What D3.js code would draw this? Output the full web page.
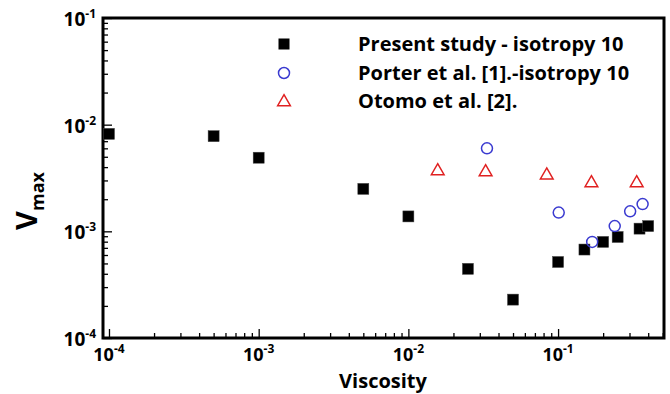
<!DOCTYPE html>
<html><head><meta charset="utf-8">
<script src="https://cdn.jsdelivr.net/npm/d3@7"></script>
<style>
html,body{margin:0;padding:0;background:#fff;}
text{font-family:"Open Sans",Lato,sans-serif;font-weight:bold;fill:#000;}
</style></head>
<body>
<svg id="c" width="670" height="394"></svg>
<script>
// Data
const presentX = [1e-4, 5e-4, 1e-3, 5e-3, 1e-2, 0.025, 0.05, 0.1, 0.15, 0.2, 0.25, 0.35, 0.40];
const presentY = [8.2e-3, 7.8e-3, 4.9e-3, 2.5e-3, 1.38e-3, 4.45e-4, 2.29e-4, 5.16e-4, 6.75e-4, 7.96e-4, 8.85e-4, 1.06e-3, 1.12e-3];
const porterX = [0.0335, 0.101, 0.169, 0.239, 0.303, 0.367];
const porterY = [6.0e-3, 1.5e-3, 7.96e-4, 1.12e-3, 1.54e-3, 1.8e-3];
const otomoX = [0.0157, 0.0328, 0.084, 0.167, 0.335];
const otomoY = [3.76e-3, 3.68e-3, 3.43e-3, 2.9e-3, 2.9e-3];
const seriesNames = ["Present study - isotropy 10", "Porter et al. [1].-isotropy 10", "Otomo et al. [2]."];
const xTickExps = [-4, -3, -2, -1];
const yTickExps = [-4, -3, -2, -1];
const xTitle = "Viscosity";
const yTitleMain = "V", yTitleSub = "max";

const svg = d3.select("#c");
const L = 103, R = 664, T = 18, B = 338;
const x = d3.scaleLog().domain([9.12e-5, 0.51]).range([L, R]);
const y = d3.scaleLog().domain([1e-4, 1e-1]).range([B, T]);

svg.append("rect").attr("width",670).attr("height",394).attr("fill","#fff");

function minors(lo, hi){ const a=[]; for(let e=lo;e<hi;e++){ for(let k=2;k<=9;k++){ a.push(k*Math.pow(10,e)); } } return a; }
const xMinor = minors(-5, 0).filter(v => v > x.domain()[0] && v < x.domain()[1]);
const yMinor = minors(-4, -1);
const xMajor = xTickExps.map(e => Math.pow(10,e));
const yMajor = yTickExps.map(e => Math.pow(10,e));

const gx1 = svg.append("g").attr("transform",`translate(0,${B})`).call(d3.axisBottom(x).tickValues(xMinor).tickSize(-5).tickFormat(""));
const gx2 = svg.append("g").attr("transform",`translate(0,${B})`).call(d3.axisBottom(x).tickValues(xMajor).tickSize(-9).tickFormat(""));
const gy1 = svg.append("g").attr("transform",`translate(${L},0)`).call(d3.axisLeft(y).tickValues(yMinor).tickSize(-5).tickFormat(""));
const gy2 = svg.append("g").attr("transform",`translate(${L},0)`).call(d3.axisLeft(y).tickValues(yMajor).tickSize(-9).tickFormat(""));
[gx1,gx2,gy1,gy2].forEach(g => { g.select(".domain").remove(); g.selectAll("line").attr("stroke","#000").attr("stroke-width",1.3); });

svg.append("rect").attr("x",L).attr("y",T).attr("width",R-L).attr("height",B-T)
  .attr("fill","none").attr("stroke","#000").attr("stroke-width",3);

xTickExps.forEach(e => {
  const t = svg.append("text").attr("x", x(Math.pow(10,e))).attr("y", 361)
    .attr("text-anchor","middle").style("font-size","18px");
  t.append("tspan").text("10");
  t.append("tspan").attr("dy",-8).style("font-size","12px").text(String(e));
});
yTickExps.forEach(e => {
  const t = svg.append("text").attr("x", 96).attr("y", y(Math.pow(10,e)) + 8)
    .attr("text-anchor","end").style("font-size","19px");
  t.append("tspan").text("10");
  t.append("tspan").attr("dy",-8).style("font-size","12px").text(String(e));
});

svg.append("text").attr("x",383).attr("y",388).attr("text-anchor","middle").style("font-size","20px").text(xTitle);
const yt = svg.append("text").attr("transform","translate(37,201) rotate(-90)").attr("text-anchor","middle").style("font-size","29px");
yt.append("tspan").text(yTitleMain);
yt.append("tspan").attr("dy",7).style("font-size","18px").text(yTitleSub);

const sq = 11;
svg.append("g").selectAll("rect").data(presentX.map((v,i)=>[v,presentY[i]])).join("rect")
  .attr("x", d => x(d[0]) - sq/2).attr("y", d => y(d[1]) - sq/2).attr("width",sq).attr("height",sq)
  .attr("fill","#000").attr("stroke","#444").attr("stroke-width",0.5);
svg.append("g").selectAll("circle").data(porterX.map((v,i)=>[v,porterY[i]])).join("circle")
  .attr("cx", d => x(d[0])).attr("cy", d => y(d[1])).attr("r",5.5)
  .attr("fill","none").attr("stroke","#3a3ad0").attr("stroke-width",1.5);
const tri = d3.symbol().type(d3.symbolTriangle).size(70);
svg.append("g").selectAll("path").data(otomoX.map((v,i)=>[v,otomoY[i]])).join("path")
  .attr("d", tri).attr("transform", d => `translate(${x(d[0])},${y(d[1])+1})`)
  .attr("fill","none").attr("stroke","#e02020").attr("stroke-width",1.5);

const legY = [44, 73, 101];
const lx = 284;
svg.append("rect").attr("x",lx-sq/2).attr("y",legY[0]-sq/2).attr("width",sq).attr("height",sq).attr("fill","#000");
svg.append("circle").attr("cx",lx).attr("cy",legY[1]).attr("r",5.5).attr("fill","none").attr("stroke","#3a3ad0").attr("stroke-width",1.5);
svg.append("path").attr("d",tri).attr("transform",`translate(${lx},${legY[2]+1})`).attr("fill","none").attr("stroke","#e02020").attr("stroke-width",1.5);
seriesNames.forEach((s,i) => {
  svg.append("text").attr("x",358).attr("y",legY[i]+7).style("font-size","20px").text(s);
});
</script>
</body></html>
